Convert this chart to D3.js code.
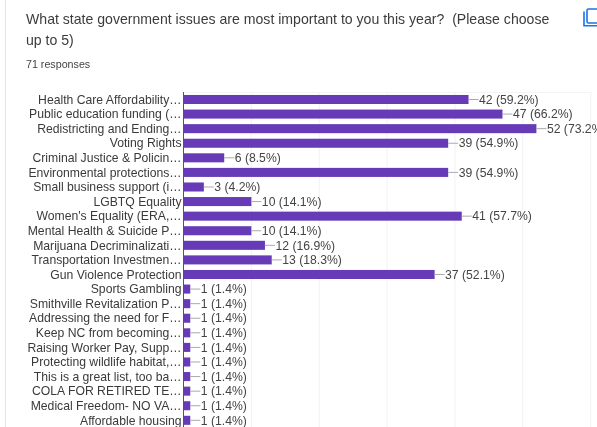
<!DOCTYPE html>
<html><head><meta charset="utf-8">
<script src="https://cdn.jsdelivr.net/npm/d3@7"></script>
<style>html,body{margin:0;padding:0;background:#fff;overflow:hidden}svg{display:block;filter:blur(0.35px)}text{font-family:"Liberation Sans",Arial,sans-serif}</style>
</head><body><svg id="c" width="597" height="427"></svg>
<script>
const categories=["Health Care Affordability…","Public education funding (…","Redistricting and Ending…","Voting Rights","Criminal Justice & Policin…","Environmental protections…","Small business support (i…","LGBTQ Equality","Women's Equality (ERA,…","Mental Health & Suicide P…","Marijuana Decriminalizati…","Transportation Investmen…","Gun Violence Protection","Sports Gambling","Smithville Revitalization P…","Addressing the need for F…","Keep NC from becoming…","Raising Worker Pay, Supp…","Protecting wildlife habitat,…","This is a great list, too ba…","COLA FOR RETIRED TE…","Medical Freedom- NO VA…","Affordable housing"];
const counts=[42,47,52,39,6,39,3,10,41,10,12,13,37,1,1,1,1,1,1,1,1,1,1];
const percents=["59.2","66.2","73.2","54.9","8.5","54.9","4.2","14.1","57.7","14.1","16.9","18.3","52.1","1.4","1.4","1.4","1.4","1.4","1.4","1.4","1.4","1.4","1.4"];
const gridTicks=[0,10,20,30,40,50,60];
const titleLines=["What state government issues are most important to you this year?  (Please choose","up to 5)"];
const subtitle="71 responses";

const svg=d3.select("#c");
const x=d3.scaleLinear().domain([0,60]).range([183.5,590.7]);
const y=d3.scaleBand().domain(categories).range([92.2,427.6]).paddingInner(0.38).paddingOuter(0.19);
svg.append("line").attr("x1",5.5).attr("x2",5.5).attr("y1",0).attr("y2",427).attr("stroke","#e4e4e4");
svg.selectAll("text.t").data(titleLines).join("text").attr("class","t").attr("x",26).attr("y",(d,i)=>24+i*20.5).attr("font-size",14.1).attr("fill","#3c3c3c").attr("xml:space","preserve").text(d=>d);
svg.append("text").attr("x",26).attr("y",67.5).attr("font-size",10.7).attr("fill","#444").text(subtitle);
// copy icon
const icon=svg.append("g").attr("fill","none").attr("stroke","#1a73e8").attr("stroke-width",1.6);
icon.append("path").attr("d","M584 11.5V25.8H597");
icon.append("rect").attr("x",587).attr("y",9).attr("width",14).attr("height",14).attr("rx",1.5);
// grid
svg.selectAll("line.g").data(gridTicks.slice(1)).join("line").attr("class","g").attr("x1",d=>x(d)).attr("x2",d=>x(d)).attr("y1",92).attr("y2",427).attr("stroke","#f2f2f2");
svg.append("line").attr("x1",183.5).attr("x2",592).attr("y1",92.5).attr("y2",92.5).attr("stroke","#f4f4f4");
// bars
svg.selectAll("rect.b").data(counts).join("rect").attr("class","b").attr("x",x(0)).attr("y",(d,i)=>y(categories[i])).attr("width",d=>x(d)-x(0)).attr("height",y.bandwidth()).attr("fill","#673ab7");
svg.selectAll("line.l").data(counts).join("line").attr("class","l").attr("x1",d=>x(d)).attr("x2",d=>x(d)+10).attr("y1",(d,i)=>y(categories[i])+y.bandwidth()/2).attr("y2",(d,i)=>y(categories[i])+y.bandwidth()/2).attr("stroke","#aaa");
svg.selectAll("text.v").data(counts).join("text").attr("class","v").attr("x",d=>x(d)+10.5).attr("y",(d,i)=>y(categories[i])+y.bandwidth()/2+4.2).attr("font-size",12.2).attr("fill","#444").text((d,i)=>`${d} (${percents[i]}%)`);
svg.selectAll("text.c").data(categories).join("text").attr("class","c").attr("x",181.5).attr("y",d=>y(d)+y.bandwidth()/2+4.2).attr("text-anchor","end").attr("font-size",12.2).attr("fill","#3a3a3a").text(d=>d);
// axis line
svg.append("line").attr("x1",x(0)).attr("x2",x(0)).attr("y1",92).attr("y2",427).attr("stroke","#555");
</script></body></html>
